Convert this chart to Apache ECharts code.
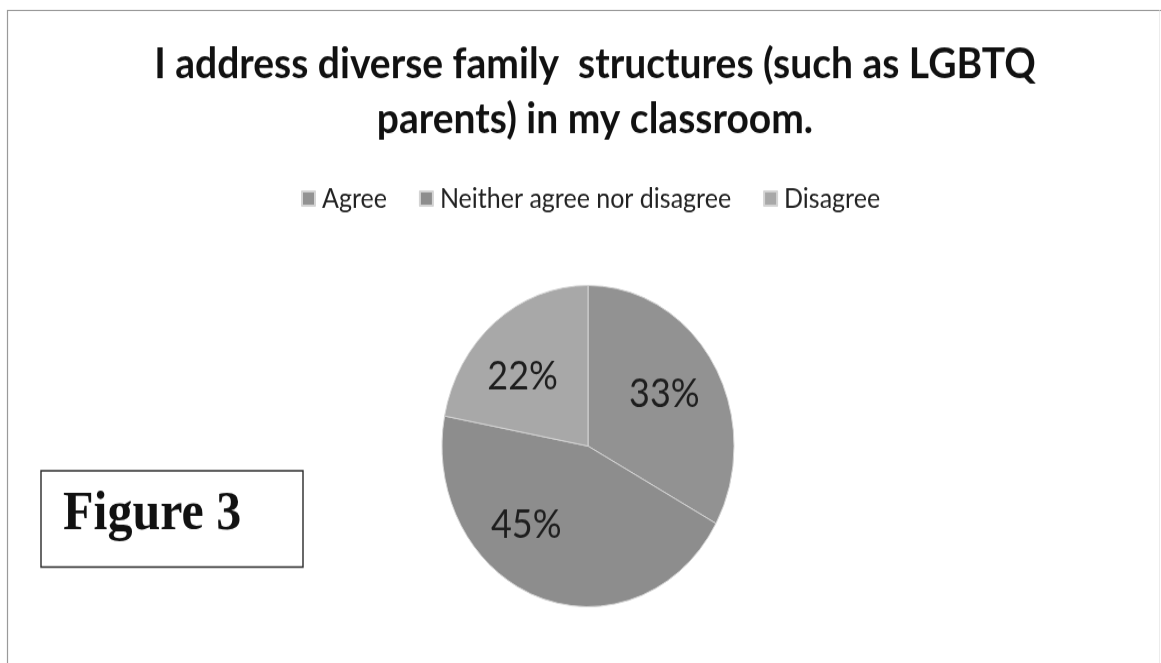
<!DOCTYPE html>
<html>
<head>
<meta charset="utf-8">
<script src="https://cdn.jsdelivr.net/npm/echarts@6/dist/echarts.min.js"></script>
<style>
  html, body { margin: 0; padding: 0; background: #fff; }
  #wrap { width: 1161px; height: 663px; overflow: hidden; position: relative; background: #fff; }
  /* the chart is drawn on a 603px canvas and stretched vertically by 1.1 */
  #chart { width: 1161px; height: 603px; transform: scaleY(1.1); transform-origin: 0 0; }
</style>
</head>
<body>
<div id="wrap"><div id="chart"></div></div>
<script>
// Survey responses
const categories = ['Agree', 'Neither agree nor disagree', 'Disagree'];
const percents = [33, 45, 22];
const sliceColors = ['#929292', '#8d8d8d', '#a8a8a8'];
// nudges that move each percentage label toward its usual spot inside the slice
const labelOffsets = [[11, -8], [-36, 0], [-17, -5]];

const titleText = 'I address diverse family  structures (such as LGBTQ\nparents) in my classroom.';
const figureText = 'Figure 3';

const chart = echarts.init(document.getElementById('chart'), null, { renderer: 'canvas' });

chart.setOption({
  backgroundColor: '#ffffff',
  animation: false,
  title: {
    text: titleText,
    left: 590,
    top: 28,
    textAlign: 'center',
    textStyle: {
      fontFamily: 'Lato',
      fontWeight: 'bold',
      fontSize: 39,
      lineHeight: 50,
      color: '#111111'
    }
  },
  legend: {
    data: categories,
    left: 296,
    top: 163,
    itemWidth: 13,
    itemHeight: 13,
    itemGap: 32,
    icon: 'rect',
    textStyle: { fontFamily: 'Lato', fontSize: 25, color: '#222222', padding: [0, 0, 0, 2] }
  },
  graphic: [
    // outer frame (left and top edges show, right edge faint)
    { type: 'polyline', silent: true,
      shape: { points: [[7.5, 700], [7.5, 9.5], [1161, 9.5]] },
      style: { stroke: '#9a9a9a', lineWidth: 1.2, fill: null } },
    { type: 'line', silent: true,
      shape: { x1: 1159.5, y1: 9.5, x2: 1159.5, y2: 700 },
      style: { stroke: '#ececec', lineWidth: 1 } },
    // caption box
    { type: 'rect', silent: true,
      shape: { x: 41, y: 428, width: 262, height: 87.5 },
      style: { fill: '#ffffff', stroke: '#2a2a2a', lineWidth: 1.4 } },
    { type: 'text', silent: true,
      x: 63, y: 468,
      style: {
        text: figureText,
        font: 'bold 50px "Liberation Serif", "Times New Roman", serif',
        fill: '#111111',
        textAlign: 'left',
        textVerticalAlign: 'middle'
      } }
  ],
  series: [{
    type: 'pie',
    center: [588, 405.5],
    radius: 146,
    startAngle: 90,
    clockwise: true,
    avoidLabelOverlap: false,
    silent: true,
    itemStyle: { borderColor: '#d4d4d4', borderWidth: 1 },
    label: {
      show: true,
      position: 'inside',
      formatter: '{c}%',
      fontFamily: 'Lato',
      fontSize: 36,
      color: '#1e1e1e'
    },
    labelLine: { show: false },
    data: categories.map((name, i) => ({
      name: name,
      value: percents[i],
      itemStyle: { color: sliceColors[i] },
      label: { offset: labelOffsets[i] }
    }))
  }],
  color: sliceColors
});
</script>
</body>
</html>
